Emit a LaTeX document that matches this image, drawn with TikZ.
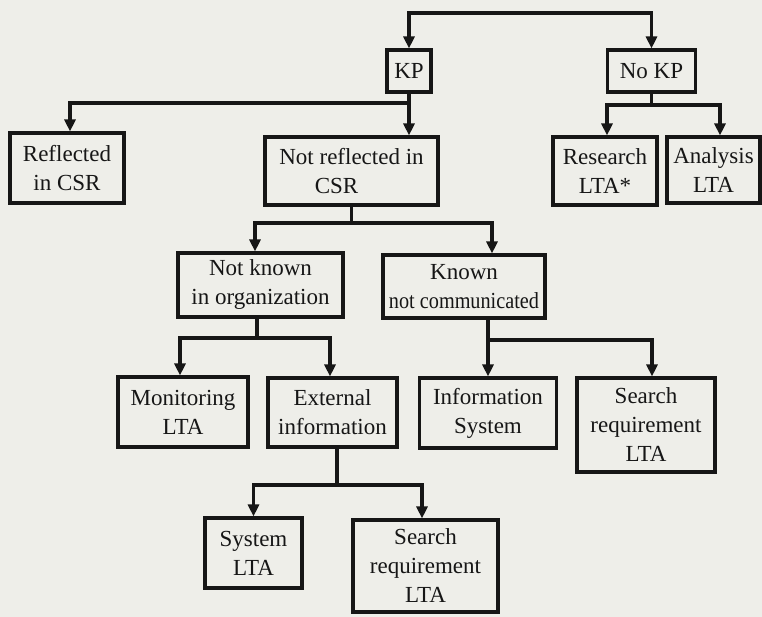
\documentclass[tikz,border=0pt]{standalone}
\usepackage{fontspec}
\setmainfont{Liberation Serif}
\usetikzlibrary{arrows.meta}
\definecolor{paper}{RGB}{238,238,233}
\definecolor{ink}{RGB}{22,22,22}
\begin{document}
\begin{tikzpicture}[x=1pt,y=-1pt,
  box/.style={draw=ink, line width=3.1pt, align=center, inner sep=0pt,
    text=ink, font=\fontsize{23}{29}\selectfont},
  link/.style={draw=ink, line width=3.1pt},
  arr/.style={link, -{Triangle[length=12pt,width=11pt]}},
  twoway/.style={link, {Triangle[length=12pt,width=11pt]}-{Triangle[length=12pt,width=11pt]}}]
\fill[paper] (0,0) rectangle (762,617);
\useasboundingbox (0,0) rectangle (762,617);

% top level
\node[box, minimum width=44pt, minimum height=42pt] (kp) at (409,71) {KP};
\node[box, minimum width=88pt, minimum height=42pt] (nokp) at (651.5,71) {No KP};

% second level
\node[box, minimum width=114pt, minimum height=70pt] (refl) at (67,168) {Reflected\\in CSR};
\node[box, minimum width=173pt, minimum height=68pt] (notrefl) at (351.5,171) {Not reflected in\\CSR\hspace*{30pt}};
\node[box, minimum width=104pt, minimum height=68pt] (research) at (605,171) {Research\\LTA*};
\node[box, minimum width=93pt, minimum height=66pt] (analysis) at (713.5,170) {Analysis\\LTA};

% third level
\node[box, minimum width=165pt, minimum height=64pt] (notknown) at (260.5,285) {Not known\\in organization};
\node[box, minimum width=162pt, minimum height=63pt] (known) at (464,286.5) {Known\\\scalebox{0.88}[1]{not communicated}};

% fourth level
\node[box, minimum width=130pt, minimum height=70pt] (monitor) at (183,412) {Monitoring\\LTA};
\node[box, minimum width=129pt, minimum height=69pt] (external) at (332.5,412.5) {External\\information};
\node[box, minimum width=137pt, minimum height=70pt] (infosys) at (488,413) {Information\\System};
\node[box, minimum width=138pt, minimum height=94pt] (searchr) at (646,425) {Search\\requirement\\LTA};

% fifth level
\node[box, minimum width=97pt, minimum height=70pt] (system) at (253.5,553) {System\\LTA};
\node[box, minimum width=145pt, minimum height=92pt] (searchb) at (425.5,566) {Search\\requirement\\LTA};

% branch points
\coordinate (top) at (530,13);
\coordinate (b1) at (409,103);
\coordinate (b2) at (651.5,105);
\coordinate (b3) at (351.5,223);
\coordinate (b4) at (257,338);
\coordinate (b5) at (488,340);
\coordinate (b6) at (337,485);

% KP / No KP
\draw[twoway] (kp.north) |- (top) -| (nokp.north);

% KP branches
\draw[arr] (kp.south) -- (kp.south |- notrefl.north);
\draw[arr] (b1) -| ([xshift=3pt]refl.north);

% No KP branches
\draw[link] (nokp.south) -- (b2);
\draw[arr] (b2) -| ([xshift=2pt]research.north);
\draw[arr] (b2) -| ([xshift=6.5pt]analysis.north);

% Not reflected branches
\draw[link] (notrefl.south) -- (b3);
\draw[arr] (b3) -| ([xshift=-5.5pt]notknown.north);
\draw[arr] (b3) -| ([xshift=28pt]known.north);

% Not known branches
\draw[link] (notknown.south -| b4) -- (b4);
\draw[arr] (b4) -| ([xshift=-3pt]monitor.north);
\draw[arr] (b4) -| ([xshift=-2.5pt]external.north);

% Known branches
\draw[link] (known.south -| b5) -- (b5);
\draw[arr] (b5) -- (infosys.north);
\draw[arr] (b5) -| ([xshift=6pt]searchr.north);

% External branches
\draw[link] (external.south -| b6) -- (b6);
\draw[arr] (b6) -| (system.north);
\draw[arr] (b6) -| ([xshift=-3.5pt]searchb.north);
\end{tikzpicture}
\end{document}
